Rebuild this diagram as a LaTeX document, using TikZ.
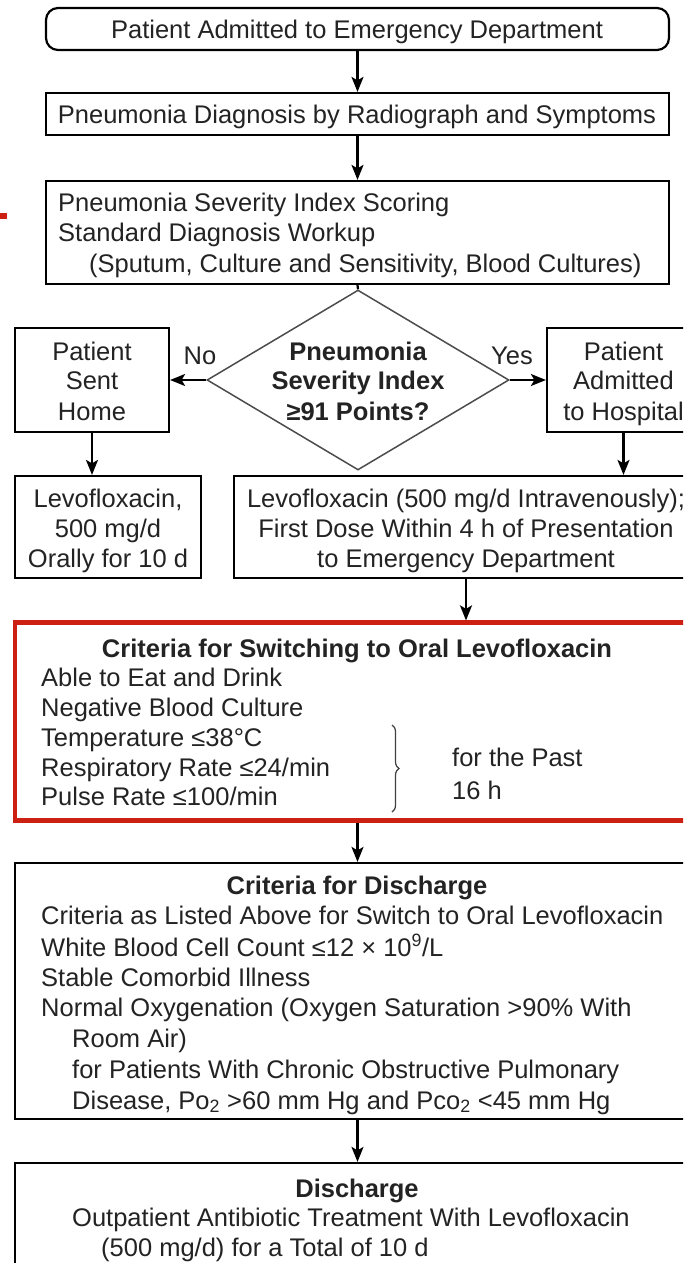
\documentclass[tikz,border=0pt]{standalone}
\usepackage{fontspec}
\setmainfont{Liberation Sans}
\usetikzlibrary{arrows.meta,shapes.geometric,decorations.pathreplacing}
\definecolor{ink}{RGB}{35,35,35}
\definecolor{redline}{RGB}{204,32,18}
\begin{document}
\begin{tikzpicture}[x=1pt,y=-1pt,
  box/.style={draw=black, line width=2.2pt, rectangle, inner sep=0pt},
  redbox/.style={draw=redline, line width=4.2pt, rectangle, inner sep=0pt},
  conn/.style={draw=black, line width=2.2pt, -{Stealth[length=15pt,width=12pt,inset=3.5pt]}},
  plain/.style={draw=black, line width=2.2pt},
  txt/.style={anchor=base, inner sep=0pt, text=ink, font=\fontsize{25.5pt}{30.5pt}\selectfont},
  txtl/.style={txt, anchor=base west},
  txtb/.style={txt, font=\fontsize{25.5pt}{30.5pt}\selectfont\bfseries}]
\useasboundingbox (0,0) rectangle (683,1263);
\clip (0,0) rectangle (683,1263);
\fill[white] (0,0) rectangle (683,1263);

% red tick at left
\fill[redline] (0,213) rectangle (7,219);

% boxes
\node[box, rounded corners=12pt, minimum width=623pt, minimum height=42pt] (b1) at (357.5,29) {};
\node[box, minimum width=623pt, minimum height=42pt] (b2) at (357.5,114) {};
\node[box, minimum width=623pt, minimum height=103pt] (b3) at (357.5,232.5) {};
\node[draw=black!70, line width=1.5pt, diamond, inner sep=0pt, minimum width=302pt, minimum height=180pt] (dm) at (358,380) {};
\node[box, minimum width=154pt, minimum height=104pt] (sh) at (92,380) {};
\node[box, minimum width=153pt, minimum height=104pt] (ah) at (623.5,380) {};
\node[box, minimum width=186pt, minimum height=102pt] (lv1) at (108,527) {};
\node[box, minimum width=464pt, minimum height=102pt] (lv2) at (466,527) {};
\node[redbox, minimum width=685pt, minimum height=198pt] (sw) at (357.5,721.5) {};
\node[box, minimum width=685pt, minimum height=256pt] (cd) at (357.5,991) {};
\node[box, minimum width=685pt, minimum height=144pt] (dis) at (357.5,1235) {};

% connectors
\draw[conn] (b1.south) -- (b2.north);
\draw[conn] (b2.south) -- (b3.north);
\draw[plain] (b3.south) -- (dm.north);
\draw[conn] (dm.west) -- (sh.east);
\draw[conn] (dm.east) -- (ah.west);
\draw[conn] (sh.south) -- (sh.south |- lv1.north);
\draw[conn] (ah.south) -- (ah.south |- lv2.north);
\draw[conn] (lv2.south) -- (lv2.south |- sw.north);
\draw[conn] (sw.south) -- (cd.north);
\draw[conn] (cd.south) -- (dis.north);

% texts
\node[txt] (t1) at (357,39) {Patient Admitted to Emergency Department};
\node[txt] (t2) at (357,123) {Pneumonia Diagnosis by Radiograph and Symptoms};
\node[txtl] (t3a) at (58,211) {Pneumonia Severity Index Scoring};
\node[txtl] (t3b) at (58,241) {Standard Diagnosis Workup};
\node[txtl] (t3c) at (89,272) {(Sputum, Culture and Sensitivity, Blood Cultures)};

\node[txtb] (d1) at (358,360) {Pneumonia};
\node[txtb] (d2) at (358,389) {Severity Index};
\node[txtb] (d3) at (358,420) {≥91 Points?};

\node[txt] (no) at (200,364) {No};
\node[txt] (yes) at (512,364) {Yes};

\node[txt] (s1) at (92,360) {Patient};
\node[txt] (s2) at (92,389) {Sent};
\node[txt] (s3) at (92,420) {Home};

\node[txt] (a1) at (623.5,360) {Patient};
\node[txt] (a2) at (623.5,389) {Admitted};
\node[txt] (a3) at (623.5,420) {to Hospital};

\node[txt] (l1a) at (108,507) {Levofloxacin,};
\node[txt] (l1b) at (108,537) {500 mg/d};
\node[txt] (l1c) at (108,567) {Orally for 10 d};

\node[txt] (l2a) at (466,507) {Levofloxacin (500 mg/d Intravenously);};
\node[txt] (l2b) at (466,537) {First Dose Within 4 h of Presentation};
\node[txt] (l2c) at (466,567) {to Emergency Department};

\node[txtb] (swt) at (357,657) {Criteria for Switching to Oral Levofloxacin};
\node[txtl] (sw1) at (41,686) {Able to Eat and Drink};
\node[txtl] (sw2) at (41,716) {Negative Blood Culture};
\node[txtl] (sw3) at (41,746) {Temperature ≤38°C};
\node[txtl] (sw4) at (41,776) {Respiratory Rate ≤24/min};
\node[txtl] (sw5) at (41,805) {Pulse Rate ≤100/min};
\draw[black!75, line width=1.2pt, decorate, decoration={brace, amplitude=7pt}] (392,725) -- (392,812);
\node[txtl] (fp1) at (452,766) {for the Past};
\node[txtl] (fp2) at (452,799) {16 h};

\node[txtb] (cdt) at (357,894) {Criteria for Discharge};
\node[txtl] (c1) at (41,924) {Criteria as Listed Above for Switch to Oral Levofloxacin};
\node[txtl] (c2) at (41,956) {White Blood Cell Count ≤12 × 10\textsuperscript{9}/L};
\node[txtl] (c3) at (41,986) {Stable Comorbid Illness};
\node[txtl] (c4) at (41,1016) {Normal Oxygenation (Oxygen Saturation >90\% With};
\node[txtl] (c5) at (72,1047) {Room Air)};
\node[txtl] (c6) at (72,1078) {for Patients With Chronic Obstructive Pulmonary};
\node[txtl] (c7) at (72,1109) {Disease, Po\textsubscript{2} >60 mm Hg and Pco\textsubscript{2} <45 mm Hg};

\node[txtb] (dst) at (357,1197) {Discharge};
\node[txtl] (ds1) at (72,1226) {Outpatient Antibiotic Treatment With Levofloxacin};
\node[txtl] (ds2) at (101,1256) {(500 mg/d) for a Total of 10 d};
\end{tikzpicture}
\end{document}
